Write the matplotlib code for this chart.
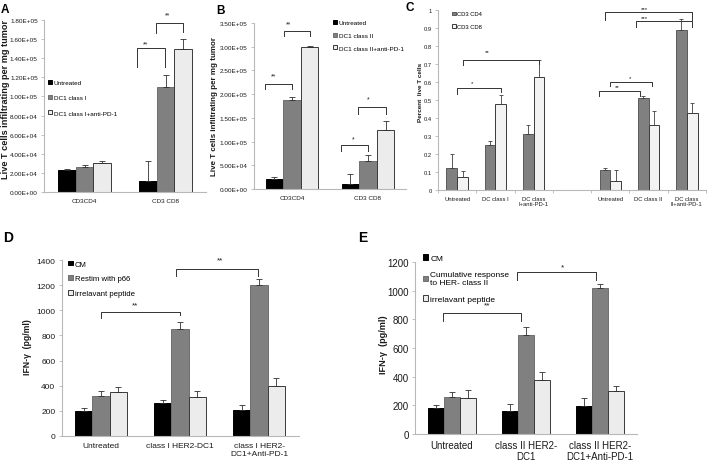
import numpy as np
import matplotlib
matplotlib.use("Agg")
import matplotlib.pyplot as plt
from matplotlib.ticker import FuncFormatter, MultipleLocator

plt.rcParams['font.family'] = ['Liberation Sans', 'DejaVu Sans']

W, H = 708, 464

# ---- panel A
a_groups = ['CD3CD4', 'CD3 CD8']
a_series = ['Untreated', 'DC1 class I', 'DC1 class I+anti-PD-1']
a_vals = [[2.3e4, 1.2e4], [2.6e4, 1.1e5], [3.0e4, 1.5e5]]
a_errs = [[0.1e4, 2.0e4], [0.2e4, 1.2e4], [0.2e4, 1.0e4]]

# ---- panel B
b_groups = ['CD3CD4', 'CD3 CD8']
b_series = ['Untreated', 'DC1 class II', 'DC1 class II+anti-PD-1']
b_vals = [[2.2e4, 1.1e4], [1.88e5, 5.8e4], [3.0e5, 1.24e5]]
b_errs = [[0.3e4, 2.1e4], [0.5e4, 1.4e4], [0.1e4, 1.9e4]]

# ---- panel C
c_cats = ['Untreated', 'DC class I', 'DC class\nI+anti-PD-1', '',
          'Untreated', 'DC class II', 'DC class\nII+anti-PD-1']
c_series = ['CD3 CD4', 'CD3 CD8']
c_cd4 = [0.12, 0.25, 0.31, np.nan, 0.11, 0.51, 0.89]
c_cd4_err = [0.08, 0.025, 0.05, np.nan, 0.012, 0.01, 0.06]
c_cd8 = [0.07, 0.48, 0.63, np.nan, 0.05, 0.36, 0.43]
c_cd8_err = [0.035, 0.05, 0.09, np.nan, 0.06, 0.08, 0.056]

# ---- panel D
d_cats = ['Untreated', 'class I HER2-DC1', 'class I HER2-\nDC1+Anti-PD-1']
d_series = ['CM', 'Restim with p66', 'irrelavant peptide']
d_vals = [[200, 260, 210], [320, 850, 1200], [350, 310, 400]]
d_errs = [[20, 30, 40], [40, 60, 50], [40, 50, 60]]

# ---- panel E
e_cats = ['Untreated', 'class II HER2-\nDC1', 'class II HER2-\nDC1+Anti-PD-1']
e_series = ['CM', 'Cumulative response\nto HER- class II', 'irrelavant peptide']
e_vals = [[180, 160, 195], [260, 690, 1020], [250, 380, 300]]
e_errs = [[25, 50, 55], [35, 55, 30], [60, 50, 33]]

FILL = ['#000000', '#808080', '#ececec']
EDGE = ['#000000', '#6f6f6f', '#3a3a3a']
SPINE = '#b8b8b8'
TXT = '#1a1a1a'

fig = plt.figure(figsize=(W / 100, H / 100), dpi=100)


def px_axes(left, right, top, bottom):
    return fig.add_axes([left / W, 1 - bottom / H, (right - left) / W, (bottom - top) / H])


def style(ax, fs):
    for s in ['top', 'right']:
        ax.spines[s].set_visible(False)
    for s in ['left', 'bottom']:
        ax.spines[s].set_color(SPINE)
        ax.spines[s].set_linewidth(0.8)
    ax.tick_params(axis='y', length=2.5, width=0.6, color=SPINE, labelsize=fs, labelcolor=TXT, pad=2)
    ax.tick_params(axis='x', length=0, labelsize=fs, labelcolor=TXT, pad=4)


def grouped(ax, cats, series, vals, errs, width, cap=2):
    x = np.arange(len(cats))
    n = len(series)
    for i in range(n):
        off = (i - (n - 1) / 2) * width
        ax.bar(x + off, vals[i], width, color=FILL[i], edgecolor=EDGE[i], linewidth=0.7,
               label=series[i],
               yerr=(np.zeros(len(cats)), errs[i]),
               error_kw=dict(ecolor='#303030', elinewidth=0.6, capsize=cap, capthick=0.6))
    ax.set_xticks(x)
    ax.set_xticklabels(cats)
    ax.set_xlim(-0.5, len(cats) - 0.5)


def bracket(ax, x0, x1, y, yl0, yl1, star, sx, sy, fs):
    ax.plot([x0, x0, x1, x1], [yl0, y, y, yl1], color='#333333', lw=0.7, clip_on=False)
    ax.text(sx, sy, star, ha='center', va='center', fontsize=fs, color=TXT, clip_on=False)


def legend(ax, x, y, fs, spacing):
    ax.legend(loc='upper left', bbox_to_anchor=(x / W, 1 - y / H), bbox_transform=fig.transFigure,
              frameon=False, fontsize=fs, handlelength=0.6, handleheight=0.6, handletextpad=0.3,
              labelspacing=spacing, borderpad=0, borderaxespad=0)


sci = FuncFormatter(lambda v, p: '%.2E' % v)

# ---------------- A
ax = px_axes(44, 206, 21, 193)
grouped(ax, a_groups, a_series, a_vals, a_errs, 0.222)
style(ax, 4.6)
ax.set_ylim(0, 1.8e5)
ax.yaxis.set_major_locator(MultipleLocator(2e4))
ax.yaxis.set_major_formatter(sci)
legend(ax, 48, 81, 4.6, 1.55)
bracket(ax, 0.642, 0.99, 1.507e5, 1.31e5, 1.31e5, '**', 0.75, 1.55e5, 4.8)
bracket(ax, 0.88, 1.222, 1.77e5, 1.665e5, 1.67e5, '**', 1.03, 1.85e5, 4.8)
fig.text(6 / W, 1 - 99 / H, 'Live T cells infiltrating per mg tumor', rotation=90,
         ha='center', va='center', fontsize=6.6, fontweight='bold', color=TXT)
fig.text(5 / W, 1 - 10 / H, 'A', ha='center', va='center', fontsize=8.5, fontweight='bold')

# ---------------- B
ax = px_axes(254, 406, 24, 190)
grouped(ax, b_groups, b_series, b_vals, b_errs, 0.232)
style(ax, 4.6)
ax.set_ylim(0, 3.5e5)
ax.yaxis.set_major_locator(MultipleLocator(5e4))
ax.yaxis.set_major_formatter(sci)
legend(ax, 333, 21, 4.6, 1.15)
bracket(ax, -0.36, 0.0, 2.21e5, 2.11e5, 2.11e5, '**', -0.25, 2.38e5, 4.8)
bracket(ax, -0.10, 0.232, 3.33e5, 3.23e5, 3.23e5, '**', -0.05, 3.48e5, 4.8)
bracket(ax, 0.645, 1.0, 0.93e5, 0.80e5, 0.80e5, '*', 0.80, 1.05e5, 4.8)
bracket(ax, 0.87, 1.232, 1.73e5, 1.58e5, 1.58e5, '*', 1.0, 1.90e5, 4.8)
fig.text(215 / W, 1 - 107 / H, 'Live T cells infiltrating per mg tumor', rotation=90,
         ha='center', va='center', fontsize=5.8, fontweight='bold', color=TXT)
fig.text(220 / W, 1 - 11 / H, 'B', ha='center', va='center', fontsize=8.5, fontweight='bold')

# ---------------- C
ax = px_axes(438, 706, 11, 191)
xc = np.arange(len(c_cats))
cw = 0.28
ax.bar(xc - cw / 2, c_cd4, cw, color='#808080', edgecolor='#5a5a5a', linewidth=0.7, label=c_series[0],
       yerr=(np.zeros(len(c_cats)), c_cd4_err),
       error_kw=dict(ecolor='#404040', elinewidth=0.6, capsize=1.5, capthick=0.6))
ax.bar(xc + cw / 2, c_cd8, cw, color='#f3f3f3', edgecolor='#3a3a3a', linewidth=0.7, label=c_series[1],
       yerr=(np.zeros(len(c_cats)), c_cd8_err),
       error_kw=dict(ecolor='#404040', elinewidth=0.6, capsize=1.5, capthick=0.6))
ax.set_xticks(xc)
ax.set_xticklabels(c_cats)
ax.set_xticks(np.arange(len(c_cats) + 1) - 0.5, minor=True)
ax.set_xlim(-0.5, len(c_cats) - 0.5)
style(ax, 4.2)
ax.tick_params(axis='x', which='minor', length=2.5, width=0.6, color=SPINE)
ax.set_ylim(0, 1)
ax.yaxis.set_major_locator(MultipleLocator(0.1))
ax.yaxis.set_major_formatter(FuncFormatter(lambda v, p: '%g' % round(v, 1)))
legend(ax, 452, 12.5, 4.2, 1.35)
bracket(ax, 0.14, 2.14, 0.725, 0.694, 0.70, '**', 0.78, 0.77, 4.4)
bracket(ax, 0.0, 1.14, 0.566, 0.533, 0.542, '*', 0.39, 0.598, 4.4)
bracket(ax, 3.86, 6.14, 0.99, 0.947, 0.947, '***', 4.88, 1.01, 4.4)
bracket(ax, 4.67, 6.14, 0.938, 0.907, 0.907, '***', 4.9, 0.957, 4.4)
bracket(ax, 3.99, 5.08, 0.598, 0.576, 0.576, '*', 4.52, 0.626, 4.4)
bracket(ax, 3.71, 4.78, 0.548, 0.52, 0.52, '**', 4.18, 0.576, 4.4)
fig.text(420 / W, 1 - 92 / H, 'Percent  live T cells', rotation=90,
         ha='center', va='center', fontsize=4.6, fontweight='bold', color=TXT)
fig.text(410 / W, 1 - 8 / H, 'C', ha='center', va='center', fontsize=8.5, fontweight='bold')

# ---------------- D
ax = px_axes(61.5, 298.5, 261, 437)
grouped(ax, d_cats, d_series, d_vals, d_errs, 0.22)
style(ax, 6.0)
ax.set_ylim(0, 1400)
ax.yaxis.set_major_locator(MultipleLocator(200))
legend(ax, 68, 261.5, 5.6, 0.95)
bracket(ax, 0.0, 1.0, 986, 939, 962, '**', 0.43, 1045, 5.8)
bracket(ax, 0.95, 1.99, 1328, 1273, 1273, '**', 1.51, 1400, 5.8)
fig.text(28 / W, 1 - 347 / H, 'IFN-γ  (pg/ml)', rotation=90,
         ha='center', va='center', fontsize=6.2, fontweight='bold', color=TXT)
fig.text(8 / W, 1 - 238 / H, 'D', ha='center', va='center', fontsize=10, fontweight='bold')

# ---------------- E
ax = px_axes(415, 637, 263, 435)
grouped(ax, e_cats, e_series, e_vals, e_errs, 0.218)
style(ax, 7.0)
ax.set_ylim(0, 1200)
ax.yaxis.set_major_locator(MultipleLocator(200))
legend(ax, 423, 255.5, 6.0, 1.1)
bracket(ax, -0.12, 0.93, 844, 788, 788, '**', 0.47, 900, 6.0)
bracket(ax, 0.88, 1.95, 1130, 1074, 1074, '*', 1.49, 1165, 6.0)
fig.text(384 / W, 1 - 345 / H, 'IFN-γ  (pg/ml)', rotation=90,
         ha='center', va='center', fontsize=6.6, fontweight='bold', color=TXT)
fig.text(363 / W, 1 - 238 / H, 'E', ha='center', va='center', fontsize=10, fontweight='bold')

fig.savefig('out.png', dpi=100, facecolor='white')
